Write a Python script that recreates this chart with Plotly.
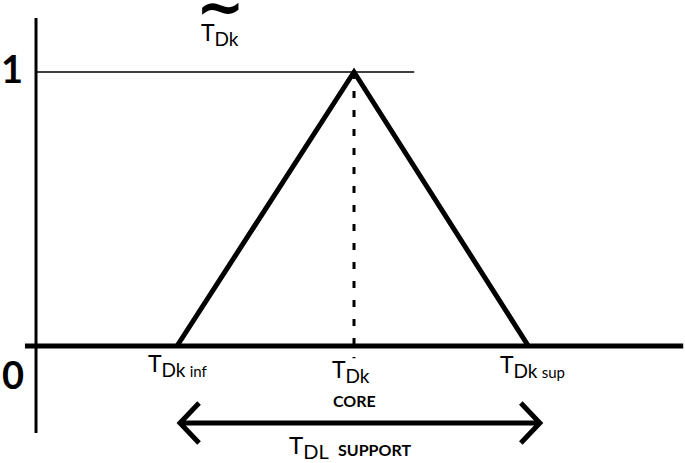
import plotly.graph_objects as go

# ---- data (abstract units) ----
T_INF = 2.0
T_CORE = 4.0
T_SUP = 5.97
SUPPORT_X = [T_INF, T_CORE, T_SUP]
MEMBERSHIP = [0.0, 1.0, 0.0]
Y_TICK_VALUES = [0, 1]
Y_TICK_LABELS = ["0", "1"]

# ---- layout constants ----
FIG_W, FIG_H = 685, 463
X_RANGE = [0.0, 7.74]
Y_RANGE = [-0.427, 1.2628]
AXIS_X = 0.407
AXIS_Y_TOP = 1.197
AXIS_Y_BOTTOM = -0.3175
HAXIS_LEFT = 0.282
HAXIS_RIGHT = 7.72
LEVEL_RIGHT = 4.68
DASH_BOTTOM = -0.045
ARROW_Y = -0.281
ARROW_PAD = 0.034
ARROW_RIGHT_PAD = 0.13
HEAD_DX = 0.215
HEAD_DY = 0.073
LABEL_X = 2.49

FONT = "Lato, 'Open Sans', sans-serif"
INK = "black"

fig = go.Figure()

def line(xs, ys, width, dash=None):
    fig.add_trace(go.Scatter(x=xs, y=ys, mode="lines",
                             line=dict(color=INK, width=width, dash=dash),
                             hoverinfo="skip", showlegend=False))

# vertical axis
line([AXIS_X, AXIS_X], [AXIS_Y_BOTTOM, AXIS_Y_TOP], 3)
# horizontal axis
line([HAXIS_LEFT, HAXIS_RIGHT], [0, 0], 5)
# level 1 line
line([AXIS_X, LEVEL_RIGHT], [1, 1], 1.3)
# dashed core line
line([T_CORE, T_CORE], [MEMBERSHIP[1], DASH_BOTTOM], 3, dash="7px,12px")
# triangle
line(SUPPORT_X, MEMBERSHIP, 5)

# support arrow
xl = T_INF + ARROW_PAD
xr = T_SUP + ARROW_RIGHT_PAD
line([xl, xr], [ARROW_Y, ARROW_Y], 5)
line([xl + HEAD_DX, xl, xl + HEAD_DX], [ARROW_Y + HEAD_DY, ARROW_Y, ARROW_Y - HEAD_DY], 5)
line([xr - HEAD_DX, xr, xr - HEAD_DX], [ARROW_Y + HEAD_DY, ARROW_Y, ARROW_Y - HEAD_DY], 5)

def ann(text, x, y, size, xanchor="center", yanchor="middle", xshift=0, yshift=0,
        bold=False, family=FONT):
    fig.add_annotation(text=text, x=x, y=y, xref="x", yref="y", showarrow=False,
                       xanchor=xanchor, yanchor=yanchor, xshift=xshift, yshift=yshift,
                       font=dict(family=family, size=size, color=INK,
                                 weight="bold" if bold else "normal"))

# y tick labels
ann(Y_TICK_LABELS[1], 0.13, Y_TICK_VALUES[1], 38, yshift=4, bold=True)
ann(Y_TICK_LABELS[0], 0.15, Y_TICK_VALUES[0], 38, yshift=-28, bold=True)

def tlabel(sub, extra=""):
    s = "T<sub><span style='font-size:19px'>" + sub + "</span>"
    if extra:
        s += " <span style='font-size:15px'>" + extra + "</span>"
    s += "</sub>"
    return s

# label with tilde above
ann("~", LABEL_X, 1.236, 58, bold=True, family="DejaVu Sans")
ann(tlabel("Dk"), LABEL_X, 1.2628, 23, yanchor="top", yshift=-16)

# point labels
ann(tlabel("Dk", "inf"), T_INF, 0, 23, yanchor="top", xshift=0, yshift=-1)
ann(tlabel("Dk"), T_CORE, 0, 23, yanchor="top", xshift=-3, yshift=-7)
ann("CORE", T_CORE, 0, 16, yanchor="top", yshift=-43, bold=True)
ann(tlabel("Dk", "sup"), T_SUP, 0, 23, yanchor="top", xshift=4, yshift=-2)
ann("T<sub><span style='font-size:20px'>DL</span></sub>", (T_INF + T_SUP) / 2, ARROW_Y, 24,
    yanchor="top", xshift=-44, yshift=-5)
ann("SUPPORT", (T_INF + T_SUP) / 2, ARROW_Y, 16, yanchor="top", xshift=22, yshift=-15, bold=True)

fig.update_layout(
    width=FIG_W, height=FIG_H, autosize=False,
    margin=dict(l=0, r=0, t=0, b=0),
    paper_bgcolor="white", plot_bgcolor="white",
    xaxis=dict(range=X_RANGE, visible=False, fixedrange=True),
    yaxis=dict(range=Y_RANGE, visible=False, fixedrange=True),
    showlegend=False,
)

fig.write_html("out.html",
               config={"displayModeBar": False, "staticPlot": True},
               post_script="document.body.style.margin='0';document.body.style.overflow='hidden';")
